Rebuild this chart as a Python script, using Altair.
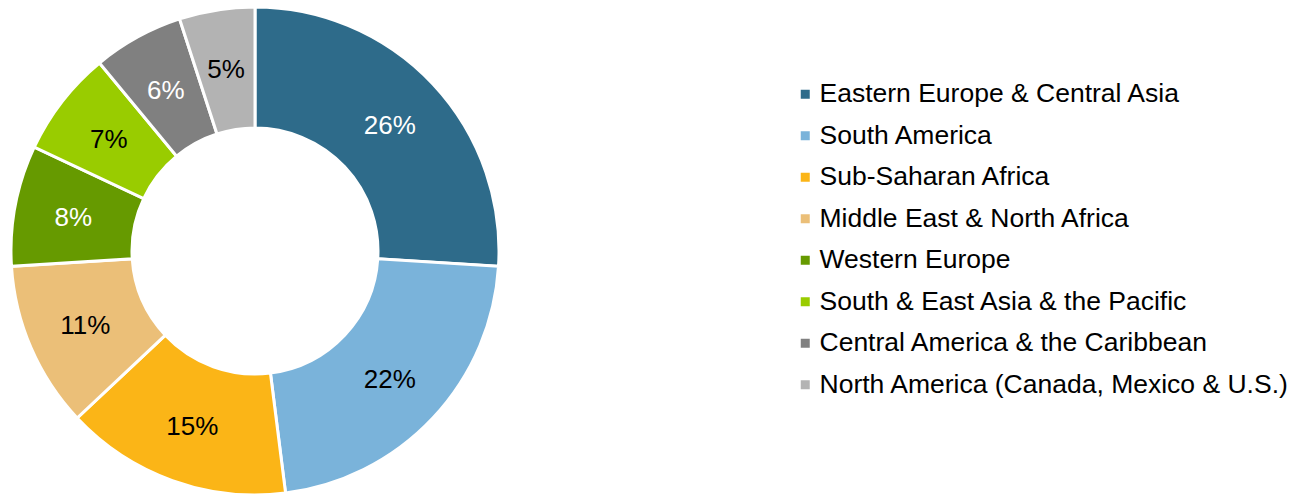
import altair as alt
import pandas as pd

categories = [
    "Eastern Europe & Central Asia",
    "South America",
    "Sub-Saharan Africa",
    "Middle East & North Africa",
    "Western Europe",
    "South & East Asia & the Pacific",
    "Central America & the Caribbean",
    "North America (Canada, Mexico & U.S.)",
]
values = [26, 22, 15, 11, 8, 7, 6, 5]
colors = ["#2e6b8a", "#7ab3da", "#fbb517", "#ebbf78", "#669a00", "#99cc00", "#808080", "#b3b3b3"]
label_colors = ["white", "black", "black", "black", "white", "black", "white", "black"]

df = pd.DataFrame({
    "cat": categories,
    "val": values,
    "idx": list(range(len(categories))),
    "lbl": [f"{v}%" for v in values],
    "tc": label_colors,
})

CX, CY = 247, 243
FONT = "Liberation Sans"

base = alt.Chart(df).encode(
    theta=alt.Theta("val:Q", stack=True),
    order=alt.Order("idx:Q"),
)

arc = base.mark_arc(outerRadius=244, innerRadius=123, stroke="white", strokeWidth=3).encode(
    x=alt.value(CX), y=alt.value(CY),
    color=alt.Color(
        "cat:N",
        scale=alt.Scale(domain=categories, range=colors),
        sort=categories,
        legend=alt.Legend(
            title=None, orient="none", legendX=784, legendY=73,
            symbolType="square", symbolSize=81, symbolStrokeWidth=0,
            labelFont=FONT, labelFontSize=26.5, labelColor="black",
            labelOffset=1, rowPadding=14.5, labelLimit=600, padding=0,
        ),
    ),
)

text = base.mark_text(radius=185, font=FONT, fontSize=26).encode(
    x=alt.value(CX), y=alt.value(CY + 2),
    text="lbl:N",
    color=alt.Color("tc:N", scale=None),
)

chart = (arc + text).properties(
    width=1287, height=488, padding=0,
    autosize=alt.AutoSizeParams(type="none"),
).configure_view(stroke=None)

chart.save("out.html", embed_options={"renderer": "svg", "actions": False})
